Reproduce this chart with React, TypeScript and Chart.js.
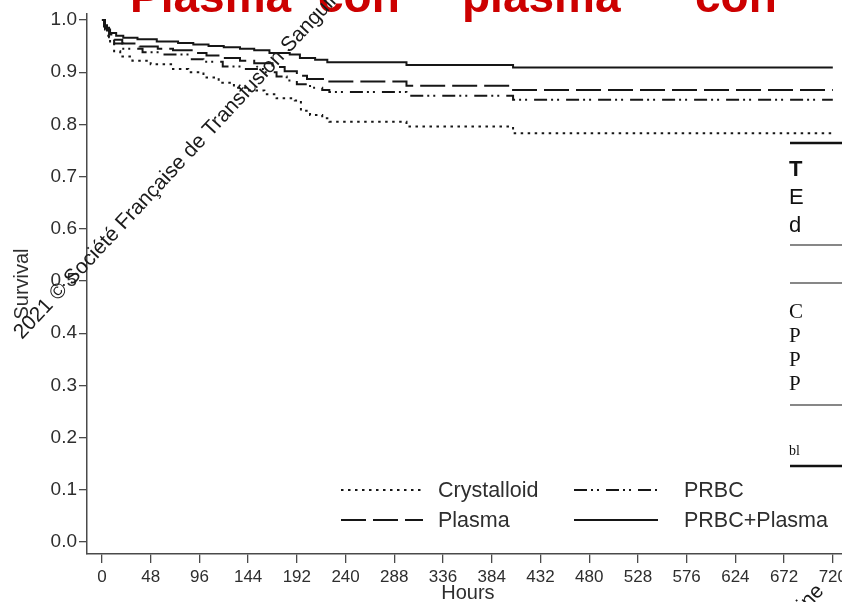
import React, { useEffect, useRef } from "react";
import { Chart, registerables } from "chart.js";

Chart.register(...registerables);

// ---------- data ----------
const seriesLabels = ["Crystalloid", "Plasma", "PRBC", "PRBC+Plasma"];

const crystalloidHours = [0, 2, 5, 8, 12, 18, 30, 48, 70, 85, 100, 115, 130, 145, 160, 172, 190, 196, 205, 217, 224, 300, 405, 720];
const crystalloidSurv = [1, 0.985, 0.97, 0.955, 0.94, 0.93, 0.922, 0.915, 0.906, 0.9, 0.89, 0.88, 0.87, 0.865, 0.858, 0.85, 0.846, 0.826, 0.818, 0.812, 0.805, 0.796, 0.783, 0.783];

const plasmaHours = [0, 3, 7, 12, 20, 37, 55, 70, 90, 103, 120, 136, 150, 168, 180, 192, 202, 222, 300, 405, 720];
const plasmaSurv = [1, 0.985, 0.972, 0.962, 0.955, 0.949, 0.945, 0.942, 0.937, 0.932, 0.927, 0.922, 0.917, 0.91, 0.902, 0.893, 0.887, 0.882, 0.874, 0.866, 0.866];

const prbcHours = [0, 3, 7, 12, 21, 40, 60, 87, 100, 119, 140, 160, 172, 182, 192, 205, 217, 224, 300, 405, 720];
const prbcSurv = [1, 0.982, 0.967, 0.955, 0.945, 0.938, 0.934, 0.925, 0.92, 0.911, 0.906, 0.9, 0.892, 0.884, 0.877, 0.87, 0.866, 0.862, 0.855, 0.847, 0.847];

const bothHours = [0, 2, 5, 8, 14, 21, 35, 54, 75, 90, 105, 120, 136, 150, 165, 185, 195, 210, 222, 300, 405, 720];
const bothSurv = [1, 0.99, 0.982, 0.975, 0.97, 0.966, 0.963, 0.959, 0.956, 0.953, 0.95, 0.948, 0.945, 0.942, 0.937, 0.934, 0.927, 0.924, 0.919, 0.914, 0.909, 0.909];

const xTickValues = [0, 48, 96, 144, 192, 240, 288, 336, 384, 432, 480, 528, 576, 624, 672, 720];
const yTickValues = [0, 0.1, 0.2, 0.3, 0.4, 0.5, 0.6, 0.7, 0.8, 0.9, 1.0];

const yAxisTitle = "Survival";
const xAxisTitle = "Hours";
const watermarkText = "2021 © Société Française de Transfusion Sanguine";
const titleWords = ["Plasma", "con", "plasma", "con"];
const tableSans = ["T", "E", "d"];
const tableSerif = ["C", "P", "P", "P"];
const tableNote = "bl";

// ---------- styles ----------
const SANS = "'Liberation Sans', Arial, Helvetica, sans-serif";
const SERIF = "'Liberation Serif', 'Times New Roman', serif";
const LINE = "#161616";
const AXIS = "#4a4a4a";
const TEXT = "#2e2e2e";

const dashes: number[][] = [
  [2.5, 4.5],
  [25, 7],
  [13, 4, 2, 4, 2, 7],
  [],
];

const toPoints = (h: number[], s: number[]) => h.map((x, i) => ({ x, y: s[i] }));

const bgPlugin = {
  id: "bg",
  beforeDraw(chart: any) {
    const { ctx, width, height } = chart;
    ctx.save();
    ctx.fillStyle = "#ffffff";
    ctx.fillRect(0, 0, width, height);
    ctx.restore();
  },
};

const legendPlugin = {
  id: "kmLegend",
  afterDraw(chart: any) {
    const ctx = chart.ctx;
    const ds = chart.data.datasets;
    // column-first order: col1 = Crystalloid, Plasma ; col2 = PRBC, PRBC+Plasma
    const slots = [
      { x0: 341, x1: 423, y: 490, tx: 438 },
      { x0: 341, x1: 423, y: 520, tx: 438 },
      { x0: 574, x1: 658, y: 490, tx: 684 },
      { x0: 574, x1: 658, y: 520, tx: 684 },
    ];
    ctx.save();
    ds.forEach((d: any, i: number) => {
      const s = slots[i];
      ctx.beginPath();
      ctx.strokeStyle = d.borderColor;
      ctx.lineWidth = d.borderWidth;
      ctx.setLineDash(d.borderDash || []);
      ctx.moveTo(s.x0, s.y);
      ctx.lineTo(s.x1, s.y);
      ctx.stroke();
      ctx.setLineDash([]);
      ctx.fillStyle = TEXT;
      ctx.font = `21.5px ${SANS}`;
      ctx.textBaseline = "middle";
      ctx.textAlign = "left";
      ctx.fillText(d.label, s.tx, s.y + 1);
    });
    ctx.restore();
  },
};

const decorPlugin = {
  id: "decor",
  afterDraw(chart: any) {
    const ctx = chart.ctx;
    ctx.save();
    // red title (cut at top)
    ctx.fillStyle = "#cc0000";
    ctx.font = `bold 46px ${SANS}`;
    ctx.textBaseline = "alphabetic";
    ctx.textAlign = "left";
    const tx = [130, 318, 462, 695];
    titleWords.forEach((w, i) => ctx.fillText(w, tx[i], 12));

    // rotated copyright text
    ctx.fillStyle = "#1a1a1a";
    ctx.font = `21px ${SANS}`;
    const ang = (-47 * Math.PI) / 180;
    [[22, 340], [497, 943]].forEach(([x, y]) => {
      ctx.save();
      ctx.translate(x, y);
      ctx.rotate(ang);
      ctx.fillText(watermarkText, 0, 0);
      ctx.restore();
    });

    // partial table at the right
    ctx.fillStyle = "#111";
    ctx.strokeStyle = "#111";
    const rule = (y: number, w: number) => {
      ctx.beginPath();
      ctx.lineWidth = w;
      ctx.moveTo(790, y);
      ctx.lineTo(851, y);
      ctx.stroke();
    };
    rule(143, 2.5);
    ctx.font = `bold 22px ${SANS}`;
    ctx.fillText(tableSans[0], 789, 176);
    ctx.font = `22px ${SANS}`;
    ctx.fillText(tableSans[1], 789, 204);
    ctx.fillText(tableSans[2], 789, 232);
    rule(245, 1.2);
    rule(283, 1.2);
    ctx.font = `21px ${SERIF}`;
    const sy = [318, 342, 366, 390];
    tableSerif.forEach((t, i) => ctx.fillText(t, 789, sy[i]));
    rule(405, 1.2);
    ctx.font = `14px ${SERIF}`;
    ctx.fillText(tableNote, 789, 455);
    rule(466, 2.5);
    ctx.restore();
  },
};

export default function App() {
  const ref = useRef<HTMLCanvasElement>(null);

  useEffect(() => {
    if (!ref.current) return;
    const all = [
      toPoints(crystalloidHours, crystalloidSurv),
      toPoints(plasmaHours, plasmaSurv),
      toPoints(prbcHours, prbcSurv),
      toPoints(bothHours, bothSurv),
    ];
    const chart = new Chart(ref.current, {
      type: "line",
      data: {
        datasets: all.map((pts, i) => ({
          label: seriesLabels[i],
          data: pts,
          borderColor: LINE,
          borderWidth: 2,
          borderDash: dashes[i],
          pointRadius: 0,
          stepped: "before" as const,
          fill: false,
        })),
      },
      options: {
        responsive: false,
        animation: false,
        layout: { padding: { top: 14, right: 0, bottom: 0, left: 0 } },
        plugins: {
          legend: { display: false },
          tooltip: { enabled: false },
        },
        scales: {
          x: {
            type: "linear",
            min: -14.73,
            max: 735.8,
            afterBuildTicks: (scale: any) => {
              scale.ticks = xTickValues.map((v) => ({ value: v }));
            },
            afterFit: (scale: any) => {
              scale.height = 48;
            },
            grid: { drawOnChartArea: false, drawTicks: true, tickLength: 9, color: AXIS, lineWidth: 1.3 },
            border: { display: true, color: AXIS, width: 1.5 },
            ticks: {
              autoSkip: false,
              maxRotation: 0,
              padding: 4,
              color: TEXT,
              font: { family: SANS, size: 17 },
              callback: (v: any) => String(v),
            },
            title: {
              display: true,
              text: xAxisTitle,
              color: TEXT,
              font: { family: SANS, size: 20, lineHeight: 1 },
              padding: { top: 0, bottom: -1 },
            },
          },
          y: {
            type: "linear",
            min: -0.023,
            max: 1.0115,
            afterBuildTicks: (scale: any) => {
              scale.ticks = yTickValues.map((v) => ({ value: v }));
            },
            afterFit: (scale: any) => {
              scale.width = 87;
            },
            grid: { drawOnChartArea: false, drawTicks: true, tickLength: 8, color: AXIS, lineWidth: 1.3 },
            border: { display: true, color: AXIS, width: 1.5 },
            ticks: {
              padding: 2,
              color: TEXT,
              font: { family: SANS, size: 19 },
              callback: (v: any) => Number(v).toFixed(1),
            },
            title: {
              display: true,
              text: yAxisTitle,
              color: TEXT,
              font: { family: SANS, size: 20, lineHeight: 1 },
              padding: { top: 12, bottom: 0 },
            },
          },
        },
      },
      plugins: [bgPlugin, legendPlugin, decorPlugin],
    });
    return () => chart.destroy();
  }, []);

  return (
    <div style={{ position: "fixed", left: 0, top: 0, width: 842, height: 602, overflow: "hidden", background: "#fff" }}>
      <canvas ref={ref} width={851} height={602} style={{ display: "block", width: 851, height: 602 }} />
    </div>
  );
}
